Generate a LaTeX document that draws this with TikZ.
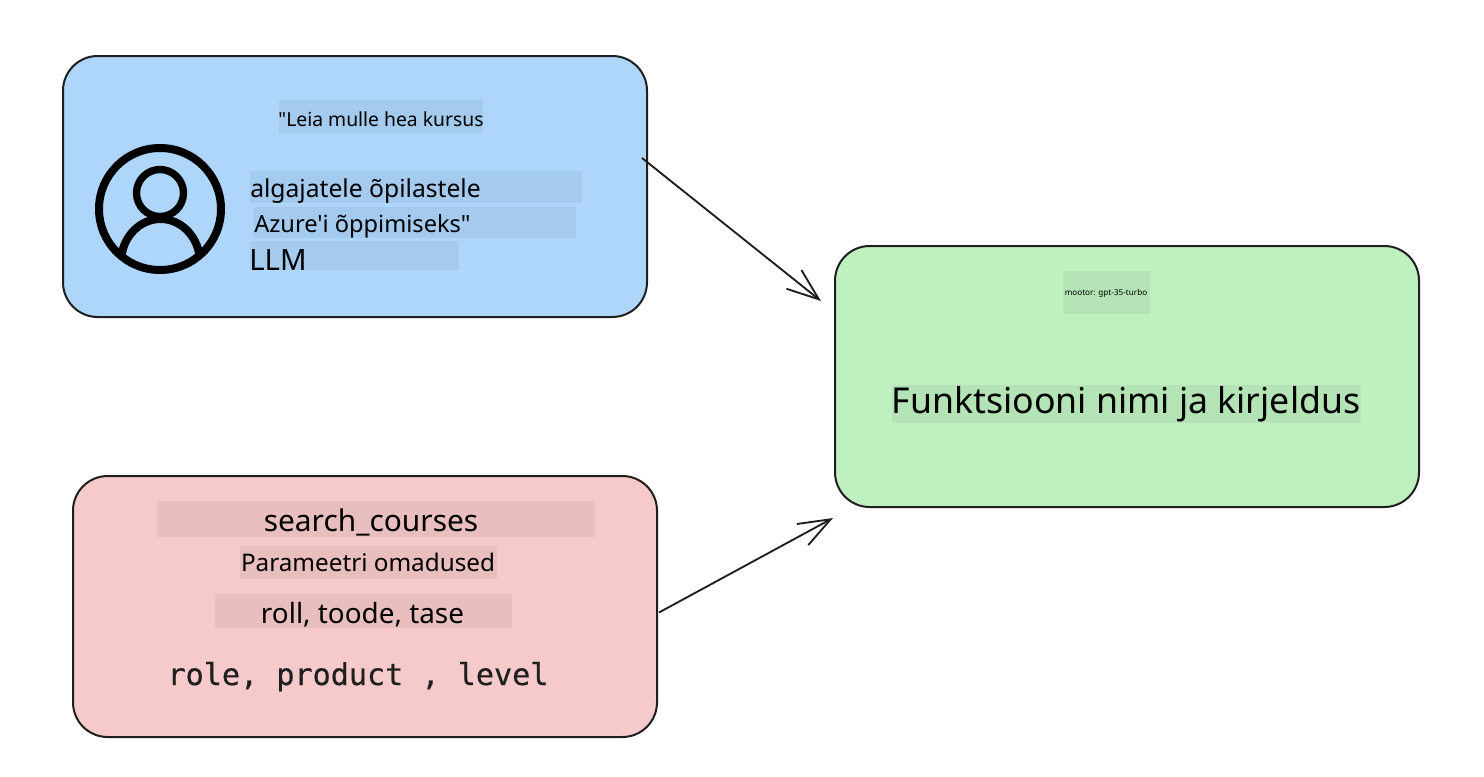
\documentclass[tikz,border=0pt]{standalone}
\usepackage{fontspec}
\newfontfamily\notofont{Noto Sans}
\newfontfamily\monofont[FakeBold=0.5]{DejaVu Sans Mono}
\usetikzlibrary{arrows.meta}

\definecolor{promptblue}{HTML}{AED6FB}
\definecolor{modelgreen}{HTML}{BFF1C0}
\definecolor{funcred}{HTML}{F6CACA}
\definecolor{inkgray}{HTML}{1F1F1F}

\tikzset{
  panel/.style={draw=inkgray,line width=1.5pt,rounded corners=26pt,minimum width=438pt,minimum height=195.75pt,inner sep=0pt},
  patch/.style={fill=black,fill opacity=.055,inner sep=0pt,anchor=north west},
  txt/.style={text=black,inner sep=0pt,font=\notofont\fontsize{#1}{#1}\selectfont},
  flow/.style={draw=inkgray,line width=1.4pt,-{Straight Barb[length=24pt,width=18pt]}},
  avatar/.style={draw=black,line width=6pt,circle,inner sep=0pt}
}

\begin{document}
\begin{tikzpicture}[x=0.75pt,y=-0.75pt]
\useasboundingbox (0,0) rectangle (1484,776);

% the three boxes
\node[panel,fill=promptblue] (prompt) at (355,186.5) {};
\node[panel,fill=funcred] (func) at (365,606.5) {};
\node[panel,fill=modelgreen] (model) at (1127,376.5) {};

% blue box
\node[patch,minimum width=153pt,minimum height=24.75pt] (p1) at (279,100) {};
\node[patch,minimum width=249pt,minimum height=24pt] (p2) at (250,171) {};
\node[patch,minimum width=241.5pt,minimum height=23.25pt] (p3) at (254,207) {};
\node[patch,minimum width=156.75pt,minimum height=21.75pt] (p4) at (250,241) {};
\node[txt=14.5,anchor=base] (t1) at (381,126) {"Leia mulle hea kursus};
\node[txt=18.5,anchor=base west] (t2) at (250,197) {algajatele õpilastele};
\node[txt=17.7,anchor=base west] (t3) at (254,232) {Azure'i õppimiseks"};
\node[txt=22,anchor=base west] (t4) at (249,270) {LLM};

\node[avatar,minimum size=91.5pt] (face) at (160,209) {};
\node[avatar,line width=5.5pt,minimum size=35.25pt] (head) at (160,193) {};
\coordinate (sl) at (121.5,256);
\coordinate (sr) at (199.5,256);
\draw[line width=6pt] (sl) .. controls (124,236) and (140,219) .. (160.5,219) .. controls (181,219) and (197,236) .. (sr);

% red box
\node[patch,minimum width=328.5pt,minimum height=27pt] (p5) at (157,501) {};
\node[patch,minimum width=192.75pt,minimum height=24.75pt] (p6) at (240,546) {};
\node[patch,minimum width=222.75pt,minimum height=25.5pt] (p7) at (215,594) {};
\node[txt=22.4,anchor=base] (t5) at (371,531.5) {search\_courses};
\node[txt=18.2,anchor=base] (t6) at (368,571) {Parameetri omadused};
\node[txt=20.9,anchor=base] (t7) at (362.5,623) {roll, toode, tase};
\node[txt=22.6,anchor=base,font=\monofont\fontsize{22.6}{22.6}\selectfont,text=inkgray] (t8) at (358,685) {role, product , level};

% green box
\node[patch,minimum width=65.25pt,minimum height=32.25pt] (p8) at (1063,271) {};
\node[patch,minimum width=351.75pt,minimum height=28.5pt] (p9) at (892,385) {};
\node[txt=6.1,anchor=base] (t9) at (1106,295) {mootor: gpt-35-turbo};
\node[txt=26.75,anchor=base] (t10) at (1126,413) {Funktsiooni nimi ja kirjeldus};

% arrows
\draw[flow] ([shift={(-6,-28.5)}]prompt.east) -- ([shift={(-13,-75.5)}]model.west);
\draw[flow] ([shift={(1,6)}]func.east) -- ([shift={(-1,10)}]model.south west);

\end{tikzpicture}
\end{document}
